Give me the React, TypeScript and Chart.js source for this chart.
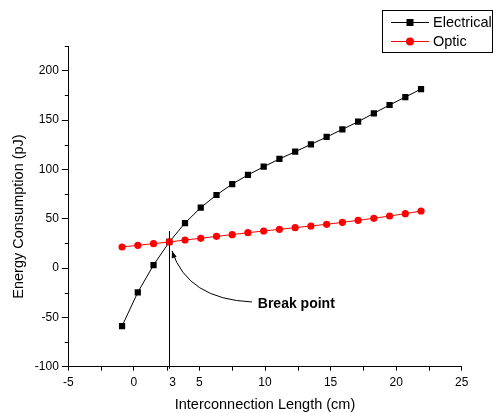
import { useEffect, useRef } from "react";
import { Chart, registerables } from "chart.js";
import type { ChartConfiguration, Plugin } from "chart.js";

Chart.register(...registerables);

// interconnection length (cm) for each measured point
const lengthCm = [
  -0.9, 0.3, 1.5, 2.7, 3.9, 5.1, 6.3, 7.5, 8.7, 9.9, 11.1, 12.3, 13.5, 14.7,
  15.9, 17.1, 18.3, 19.5, 20.7, 21.9,
];
// energy consumption (pJ)
const electrical = [
  -58.8, -24.6, 3, 26.4, 45.6, 61.2, 74, 85.1, 94.3, 102.7, 110.5, 117.9,
  125.3, 132.8, 140.5, 148.3, 156.8, 165.2, 173.3, 181.4,
];
const optic = [
  21.3, 23, 24.7, 26.4, 28.4, 30.1, 32.1, 33.8, 35.8, 37.5, 39.2, 40.9, 42.6,
  44.3, 46.3, 48.3, 50.4, 52.7, 55.1, 57.8,
];
const seriesNames = ["Electrical", "Optic"];
const xMinorTicks = [-2.5, 2.5, 7.5, 12.5, 17.5, 22.5];
const yMinorTicks = [-75, -25, 25, 75, 125, 175, 225];

// break point annotation (data units)
const breakX = 2.7;
const breakLineTop = 37.5;
const breakLabel = "Break point";
const arrowTip = { x: 2.91, y: 17.3 };
const arrowCtrl = { x: 4.1, y: -31.5 };
const arrowStart = { x: 9.0, y: -34.4 };
const labelPos = { x: 9.45, y: -36.4 };

const FONT = "'Liberation Sans', Arial, sans-serif";

const decorations: Plugin<"line"> = {
  id: "decorations",
  afterDraw(chart) {
    const { ctx } = chart;
    const xs = chart.scales.x;
    const ys = chart.scales.y;
    const area = chart.chartArea;
    ctx.save();
    ctx.strokeStyle = "#000";
    ctx.fillStyle = "#000";
    ctx.lineWidth = 1;

    // minor ticks
    ctx.beginPath();
    yMinorTicks.forEach((v) => {
      const py = Math.round(ys.getPixelForValue(v)) + 0.5;
      ctx.moveTo(area.left - 3.5, py);
      ctx.lineTo(area.left, py);
    });
    xMinorTicks.forEach((v) => {
      const px = Math.round(xs.getPixelForValue(v)) + 0.5;
      ctx.moveTo(px, area.bottom);
      ctx.lineTo(px, area.bottom + 4);
    });
    ctx.stroke();

    // break point vertical line
    const bx = Math.round(xs.getPixelForValue(breakX)) + 0.5;
    ctx.beginPath();
    ctx.moveTo(bx, area.bottom + 2);
    ctx.lineTo(bx, ys.getPixelForValue(breakLineTop));
    ctx.stroke();

    ctx.font = `12px ${FONT}`;
    ctx.textAlign = "center";
    ctx.textBaseline = "middle";
    ctx.fillText("3", bx + 3, 383);

    // curved arrow
    const sx = xs.getPixelForValue(arrowStart.x);
    const sy = ys.getPixelForValue(arrowStart.y);
    const cx = xs.getPixelForValue(arrowCtrl.x);
    const cy = ys.getPixelForValue(arrowCtrl.y);
    const tx = xs.getPixelForValue(arrowTip.x);
    const ty = ys.getPixelForValue(arrowTip.y);
    ctx.beginPath();
    ctx.moveTo(sx, sy);
    ctx.quadraticCurveTo(cx, cy, tx, ty);
    ctx.stroke();
    const ang = Math.atan2(ty - cy, tx - cx);
    const len = 7;
    const half = 2.6;
    ctx.beginPath();
    ctx.moveTo(tx, ty);
    ctx.lineTo(
      tx - len * Math.cos(ang) + half * Math.sin(ang),
      ty - len * Math.sin(ang) - half * Math.cos(ang)
    );
    ctx.lineTo(
      tx - len * Math.cos(ang) - half * Math.sin(ang),
      ty - len * Math.sin(ang) + half * Math.cos(ang)
    );
    ctx.closePath();
    ctx.fill();

    ctx.font = `bold 14px ${FONT}`;
    ctx.textAlign = "left";
    ctx.fillText(
      breakLabel,
      xs.getPixelForValue(labelPos.x),
      ys.getPixelForValue(labelPos.y)
    );

    // axis titles
    ctx.font = `14.5px ${FONT}`;
    ctx.textAlign = "center";
    ctx.fillText("Interconnection Length (cm)", (area.left + area.right) / 2, 405);
    ctx.save();
    ctx.translate(18.5, 216.5);
    ctx.rotate(-Math.PI / 2);
    ctx.fillText("Energy Consumption (pJ)", 0, 0);
    ctx.restore();

    // legend
    ctx.strokeRect(382.5, 10.5, 110, 42);
    const rows = [
      { y: 22.5, color: "#000", square: true },
      { y: 41.5, color: "#ff0000", square: false },
    ];
    rows.forEach((r, i) => {
      ctx.strokeStyle = r.color;
      ctx.fillStyle = r.color;
      ctx.beginPath();
      ctx.moveTo(391, r.y);
      ctx.lineTo(429, r.y);
      ctx.stroke();
      if (r.square) {
        ctx.fillRect(410 - 3.5, r.y - 3.5, 7, 7);
      } else {
        ctx.beginPath();
        ctx.arc(410, r.y, 4, 0, Math.PI * 2);
        ctx.fill();
      }
      ctx.fillStyle = "#000";
      ctx.font = `14.5px ${FONT}`;
      ctx.textAlign = "left";
      ctx.fillText(seriesNames[i], 433, r.y + 0.5);
    });
    ctx.restore();
  },
};

export default function App() {
  const canvasRef = useRef<HTMLCanvasElement>(null);

  useEffect(() => {
    if (!canvasRef.current) return;

    const config: ChartConfiguration<"line"> = {
      type: "line",
      data: {
        datasets: [
          {
            label: seriesNames[0],
            data: lengthCm.map((x, i) => ({ x, y: electrical[i] })),
            borderColor: "#000",
            backgroundColor: "#000",
            borderWidth: 1,
            pointStyle: "rect",
            pointRadius: 4.4,
            pointBorderWidth: 0,
            order: 2,
          },
          {
            label: seriesNames[1],
            data: lengthCm.map((x, i) => ({ x, y: optic[i] })),
            borderColor: "#ff0000",
            backgroundColor: "#ff0000",
            borderWidth: 1,
            pointStyle: "circle",
            pointRadius: 3.6,
            pointBorderWidth: 0,
            order: 1,
          },
        ],
      },
      options: {
        responsive: false,
        animation: false,
        layout: { padding: { top: 46, right: 31.3, left: 0, bottom: 0 } },
        plugins: {
          legend: { display: false },
          tooltip: { enabled: false },
        },
        scales: {
          x: {
            type: "linear",
            min: -5,
            max: 25,
            afterFit: (s) => {
              s.height = 46.3;
            },
            ticks: {
              stepSize: 5,
              color: "#000",
              padding: 5,
              font: { family: FONT, size: 12 },
            },
            grid: {
              drawOnChartArea: false,
              drawTicks: true,
              tickLength: 4,
              color: "#000",
            },
            border: { display: true, color: "#000", width: 1 },
          },
          y: {
            min: -100,
            max: 225,
            afterFit: (s) => {
              s.width = 68.3;
            },
            ticks: {
              stepSize: 50,
              color: "#000",
              padding: 3,
              font: { family: FONT, size: 12 },
              callback: (v) => (Number(v) % 50 === 0 ? String(v) : ""),
            },
            grid: {
              drawOnChartArea: false,
              drawTicks: true,
              tickLength: 6.5,
              color: (c) =>
                c.tick && c.tick.value % 50 === 0 ? "#000" : "rgba(0,0,0,0)",
            },
            border: { display: true, color: "#000", width: 1 },
          },
        },
      },
      plugins: [decorations],
    };

    const chart = new Chart(canvasRef.current, config);
    return () => chart.destroy();
  }, []);

  return (
    <div style={{ position: "absolute", left: 0, top: 0, width: 493, height: 413, background: "#fff" }}>
      <canvas ref={canvasRef} width={493} height={413} style={{ width: 493, height: 413 }} />
    </div>
  );
}
